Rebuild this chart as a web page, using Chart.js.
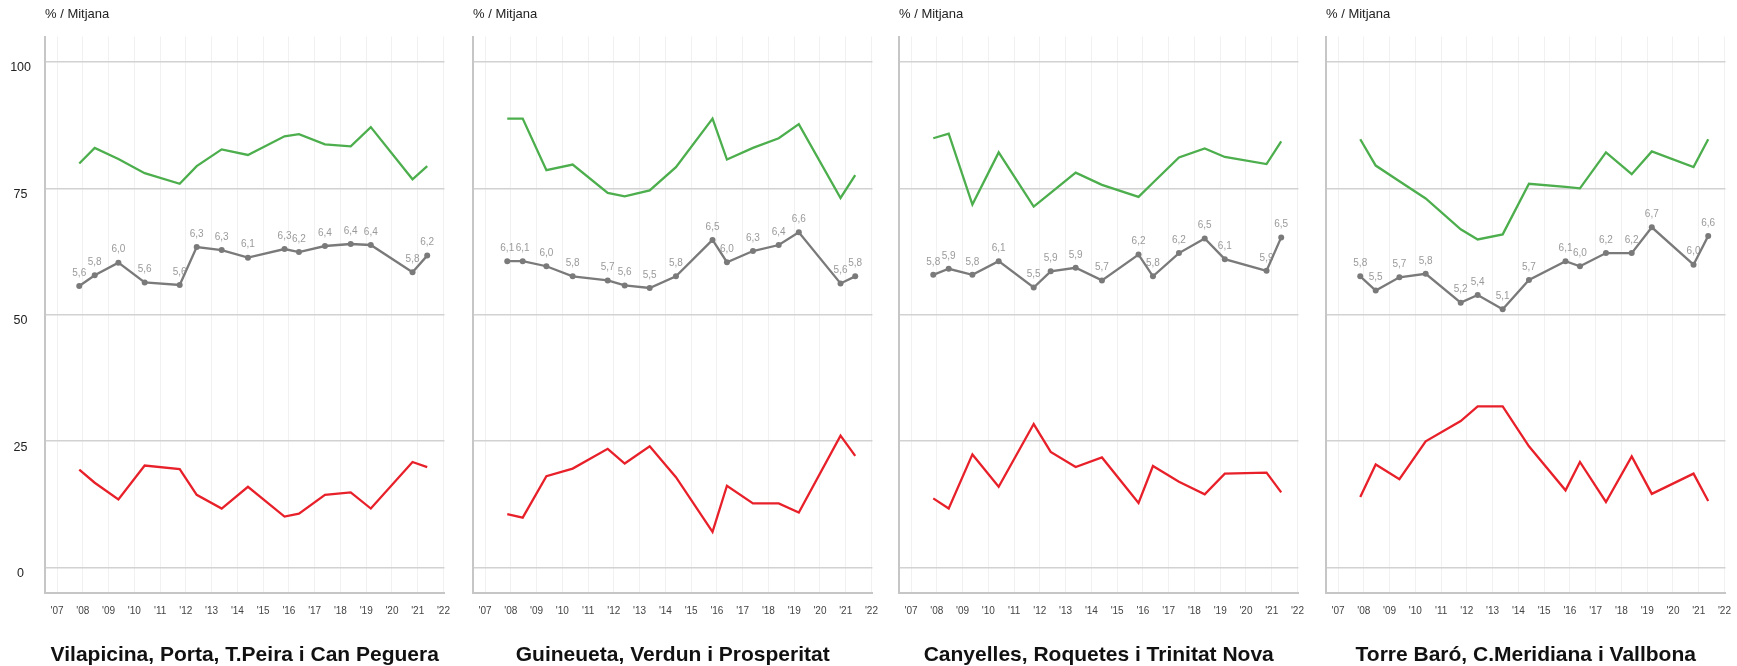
<!DOCTYPE html>
<html>
<head>
<meta charset="utf-8">
<script src="https://cdn.jsdelivr.net/npm/chart.js@4.4.1/dist/chart.umd.min.js"></script>
<style>
  html, body { margin: 0; padding: 0; background: #fff; overflow: hidden; }
  body { width: 1737px; height: 666px; position: relative; }
  canvas { position: absolute; top: 0; }
</style>
</head>
<body>
<canvas id="c0" width="462" height="666" style="left:0px"></canvas>
<canvas id="c1" width="462" height="666" style="left:428px"></canvas>
<canvas id="c2" width="462" height="666" style="left:854px"></canvas>
<canvas id="c3" width="462" height="666" style="left:1281px"></canvas>
<script>
// ---- data ----
const surveyDates = [2007.86, 2008.46, 2009.38, 2010.40, 2011.76, 2012.42, 2013.39, 2014.41, 2015.83, 2016.39, 2017.40, 2018.40, 2019.18, 2020.80, 2021.37];
const yearTicks = [2007, 2008, 2009, 2010, 2011, 2012, 2013, 2014, 2015, 2016, 2017, 2018, 2019, 2020, 2021, 2022];
const yearTickLabels = ["'07", "'08", "'09", "'10", "'11", "'12", "'13", "'14", "'15", "'16", "'17", "'18", "'19", "'20", "'21", "'22"];
const yTicks = [0, 25, 50, 75, 100];

const panelTitles = [
  'Vilapicina, Porta, T.Peira i Can Peguera',
  'Guineueta, Verdun i Prosperitat',
  'Canyelles, Roquetes i Trinitat Nova',
  'Torre Baró, C.Meridiana i Vallbona'
];

// % positive (green)
const green1 = [79.9, 83.0, 80.8, 78.0, 75.9, 79.4, 82.7, 81.6, 85.3, 85.7, 83.7, 83.3, 87.1, 76.8, 79.4];
const green2 = [88.8, 88.8, 78.6, 79.7, 74.1, 73.4, 74.6, 79.2, 88.8, 80.7, 83.0, 84.9, 87.7, 73.1, 77.6];
const green3 = [84.9, 85.8, 71.8, 82.1, 71.4, 74.1, 78.1, 75.7, 73.3, 76.1, 81.1, 82.9, 81.2, 79.8, 84.3];
const green4 = [84.7, 79.5, 76.4, 73.0, 66.9, 64.9, 65.9, 75.9, 75.3, 75.0, 82.1, 77.8, 82.3, 79.2, 84.7];

// mean score 0-10 (grey)
const mean1 = [5.57, 5.78, 6.03, 5.64, 5.59, 6.34, 6.28, 6.13, 6.30, 6.24, 6.36, 6.40, 6.38, 5.84, 6.17];
const mean2 = [6.06, 6.06, 5.96, 5.76, 5.68, 5.58, 5.53, 5.76, 6.48, 6.04, 6.26, 6.38, 6.63, 5.62, 5.76];
const mean3 = [5.79, 5.91, 5.79, 6.06, 5.54, 5.86, 5.93, 5.68, 6.19, 5.76, 6.22, 6.51, 6.10, 5.87, 6.53];
const mean4 = [5.76, 5.48, 5.74, 5.81, 5.24, 5.39, 5.11, 5.69, 6.06, 5.96, 6.22, 6.22, 6.73, 5.99, 6.56];

// % negative (red)
const red1 = [19.4, 16.8, 13.5, 20.2, 19.5, 14.4, 11.7, 16.0, 10.1, 10.7, 14.4, 14.9, 11.7, 20.9, 19.9];
const red2 = [10.6, 9.9, 18.1, 19.6, 23.5, 20.6, 24.0, 17.9, 7.1, 16.2, 12.7, 12.7, 10.9, 26.1, 22.1];
const red3 = [13.7, 11.7, 22.4, 16.0, 28.4, 22.9, 19.9, 21.8, 12.8, 20.1, 17.0, 14.5, 18.6, 18.8, 14.9];
const red4 = [14.0, 20.4, 17.5, 25.0, 29.0, 31.9, 31.9, 24.0, 15.3, 20.9, 13.0, 22.0, 14.6, 18.6, 13.2];

const greens = [green1, green2, green3, green4];
const means = [mean1, mean2, mean3, mean4];
const reds = [red1, red2, red3, red4];

// ---- rendering ----
const FONT = '"Liberation Sans", Arial, sans-serif';

const meanLabelsPlugin = {
  id: 'meanLabels',
  beforeDatasetsDraw(chart) {
    const ds = chart.data.datasets[1];
    const meta = chart.getDatasetMeta(1);
    const ctx = chart.ctx;
    ctx.save();
    ctx.font = '10px ' + FONT;
    ctx.fillStyle = '#9a9a9a';
    ctx.textAlign = 'center';
    ctx.textBaseline = 'middle';
    meta.data.forEach((pt, i) => {
      ctx.fillText(ds.valueLabels[i], pt.x, pt.y - 13);
    });
    ctx.restore();
  }
};

function makeChart(idx) {
  const toPoints = (arr, k) => surveyDates.map((x, i) => ({ x: x, y: arr[i] * k }));
  new Chart(document.getElementById('c' + idx), {
    type: 'line',
    data: {
      datasets: [
        { label: 'Positiu', data: toPoints(greens[idx], 1), borderColor: '#4cae4c', borderWidth: 2.3, pointRadius: 0, tension: 0 },
        { label: 'Mitjana', data: toPoints(means[idx], 10), borderColor: '#7a7a7a', backgroundColor: '#7a7a7a', borderWidth: 2.3, pointRadius: 3, pointBorderWidth: 0, tension: 0,
          valueLabels: means[idx].map(v => v.toFixed(1).replace('.', ',')) },
        { label: 'Negatiu', data: toPoints(reds[idx], 1), borderColor: '#e8202a', borderWidth: 2.3, pointRadius: 0, tension: 0 }
      ]
    },
    options: {
      responsive: false,
      animation: false,
      layout: { padding: { left: 0, right: 11, top: 0, bottom: 0 } },
      plugins: {
        legend: { display: false },
        tooltip: { enabled: false },
        subtitle: {
          display: true, text: '% / Mitjana', position: 'top', align: 'start', fullSize: false,
          color: '#222', font: { family: FONT, size: 13, lineHeight: 1.2 }, padding: { top: 7, bottom: 14 }
        },
        title: {
          display: true, text: panelTitles[idx], position: 'bottom', align: 'center', fullSize: false,
          color: '#111', font: { family: FONT, size: 21, weight: 'bold', lineHeight: 1 }, padding: { top: 28, bottom: 0 }
        }
      },
      scales: {
        x: {
          type: 'linear', min: 2006.53, max: 2022.04,
          afterBuildTicks: s => { s.ticks = yearTicks.map(v => ({ value: v })); },
          afterFit: s => { s.height = 24; },
          ticks: {
            autoSkip: false, maxRotation: 0, padding: 12, color: '#444',
            font: { family: FONT, size: 10 },
            callback: v => yearTickLabels[yearTicks.indexOf(v)]
          },
          grid: { color: '#f1f1f1', lineWidth: 1, drawTicks: false },
          border: { color: '#c6c6c6', width: 2 }
        },
        y: {
          min: -5, max: 105,
          afterBuildTicks: s => { s.ticks = yTicks.map(v => ({ value: v })); },
          afterFit: s => { s.width = 45; },
          ticks: {
            display: idx === 0, crossAlign: 'center', padding: 14, labelOffset: 6,
            color: '#222', font: { family: FONT, size: 12.5 }
          },
          grid: { color: '#d2d2d2', lineWidth: 1.6, drawTicks: false },
          border: { color: '#c6c6c6', width: 2 }
        }
      }
    },
    plugins: [meanLabelsPlugin]
  });
}

for (let i = 0; i < 4; i++) makeChart(i);
</script>
</body>
</html>
